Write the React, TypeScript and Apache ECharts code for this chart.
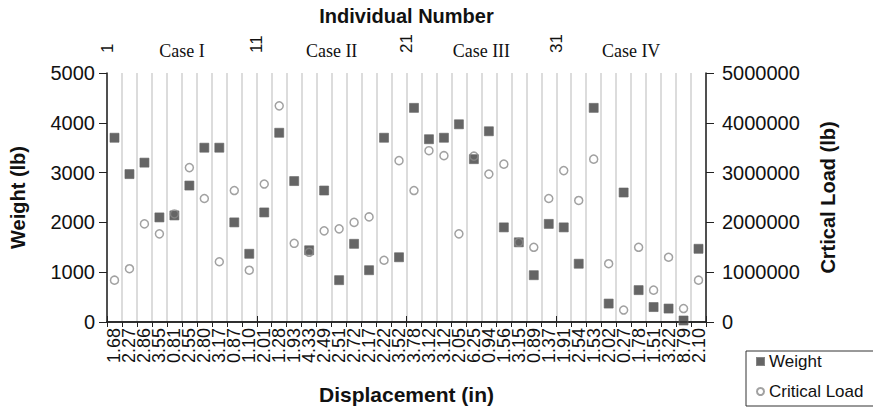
import React, { useEffect, useRef } from "react";
import * as echarts from "echarts";

const displacement = ["1.68","2.27","2.86","3.55","0.81","2.55","2.80","3.17","0.87","1.10","2.01","1.28","1.93","4.33","2.49","2.51","2.72","2.17","2.22","3.52","3.78","3.12","3.12","2.05","6.25","0.94","1.56","3.15","0.89","1.37","1.91","2.54","1.53","2.02","0.27","1.78","1.51","3.22","8.79","2.10"];
const weight = [3700,2970,3200,2100,2140,2740,3500,3500,2000,1370,2200,3800,2830,1440,2640,840,1570,1040,3700,1300,4300,3670,3700,3970,3270,3830,1900,1600,940,1970,1900,1170,4300,370,2600,640,300,270,30,1470];
const criticalLoad = [840000,1070000,1970000,1770000,2170000,3100000,2480000,1210000,2640000,1040000,2770000,4340000,1580000,1400000,1830000,1870000,2000000,2110000,1240000,3240000,2640000,3440000,3340000,1770000,3330000,2970000,3170000,1600000,1500000,2480000,3040000,2440000,3270000,1170000,240000,1500000,640000,1300000,270000,840000];
const caseNames = ["Case I", "Case II", "Case III", "Case IV"];

const SANS = "Liberation Sans";

export default function App() {
  const ref = useRef<HTMLDivElement>(null);
  useEffect(() => {
    const chart = echarts.init(ref.current!, null, { renderer: "svg" });
    const axisLine = { show: true, lineStyle: { color: "#222", width: 1.5 } };
    const nameStyle = { fontFamily: SANS, fontSize: 20, fontWeight: "bold", color: "#111" };
    chart.setOption({
      animation: false,
      grid: { left: 105, right: 167, top: 73, bottom: 86 },
      legend: {
        orient: "vertical",
        left: 746,
        top: 351,
        itemGap: 13,
        itemWidth: 7,
        itemHeight: 7,
        padding: [2, 30, 6, 10],
        borderColor: "#333",
        borderWidth: 1,
        textStyle: { fontFamily: SANS, fontSize: 17, color: "#111" },
        data: [
          { name: "Weight", icon: "rect" },
          { name: "Critical Load", icon: "circle" },
        ],
      },
      xAxis: [
        {
          type: "category",
          data: displacement,
          position: "bottom",
          boundaryGap: true,
          axisLine,
          axisTick: { show: true, alignWithLabel: false, length: 5, lineStyle: { color: "#222" } },
          axisLabel: { rotate: 90, interval: 0, fontFamily: SANS, fontSize: 18, color: "#111", margin: 6 },
          splitLine: { show: true, interval: 0, lineStyle: { color: "#d0d0d0", width: 1.5 } },
          name: "Displacement (in)",
          nameLocation: "middle",
          nameGap: 62,
          nameTextStyle: { ...nameStyle, fontSize: 21 },
        },
        {
          type: "value",
          position: "top",
          min: 0,
          max: 40,
          interval: 10,
          axisLine,
          axisTick: { show: true, length: 6, lineStyle: { color: "#222" } },
          axisLabel: {
            rotate: 90,
            fontFamily: SANS,
            fontSize: 17,
            color: "#111",
            margin: 20,
            formatter: (v: number) => (v < 40 ? String(v + 1) : ""),
          },
          splitLine: { show: false },
          name: "Individual Number",
          nameLocation: "middle",
          nameGap: 44,
          nameTextStyle: nameStyle,
        },
        {
          type: "category",
          position: "top",
          data: caseNames,
          boundaryGap: true,
          axisLine: { show: false },
          axisTick: { show: false },
          splitLine: { show: false },
          axisLabel: { fontFamily: "Liberation Serif", fontSize: 18, color: "#111", margin: 13 },
        },
      ],
      yAxis: [
        {
          type: "value",
          min: 0,
          max: 5000,
          interval: 1000,
          position: "left",
          axisLine,
          axisTick: { show: true, length: 8, lineStyle: { color: "#222" } },
          axisLabel: { fontFamily: SANS, fontSize: 20, color: "#111", margin: 12, formatter: (v: number) => String(v) },
          splitLine: { show: false },
          name: "Weight (lb)",
          nameLocation: "middle",
          nameGap: 79,
          nameTextStyle: nameStyle,
        },
        {
          type: "value",
          min: 0,
          max: 5000000,
          interval: 1000000,
          position: "right",
          axisLine,
          axisTick: { show: true, length: 8, lineStyle: { color: "#222" } },
          axisLabel: { fontFamily: SANS, fontSize: 20, color: "#111", margin: 16, formatter: (v: number) => String(v) },
          splitLine: { show: false },
          name: "Crtical Load (lb)",
          nameLocation: "middle",
          nameGap: 112,
          nameRotate: 90,
          nameTextStyle: nameStyle,
        },
      ],
      series: [
        {
          name: "Weight",
          type: "scatter",
          xAxisIndex: 0,
          yAxisIndex: 0,
          symbol: "rect",
          symbolSize: 9,
          itemStyle: { color: "#3e3e3e", borderColor: "#666", borderWidth: 0.8 },
          data: weight,
          z: 2,
        },
        {
          name: "Critical Load",
          type: "scatter",
          xAxisIndex: 0,
          yAxisIndex: 1,
          symbol: "circle",
          symbolSize: 8,
          itemStyle: { color: "transparent", borderColor: "#8a8a8a", borderWidth: 1.5 },
          data: criticalLoad,
          z: 3,
        },
      ],
    });
    return () => chart.dispose();
  }, []);
  return <div ref={ref} style={{ width: 873, height: 410, position: "absolute", left: 0, top: 0 }} />;
}
